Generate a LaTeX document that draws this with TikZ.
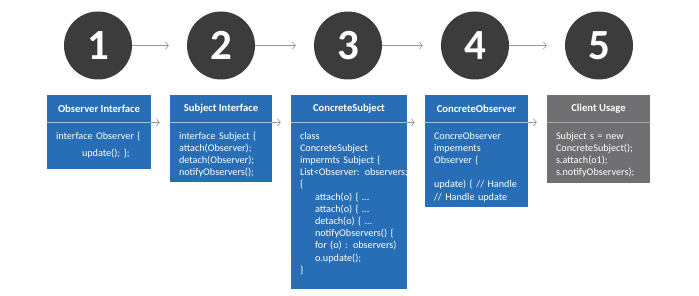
\documentclass[tikz,border=0pt]{standalone}
\usepackage{fontspec}
\setmainfont{Carlito}
\usetikzlibrary{arrows.meta}
\definecolor{disc}{RGB}{60,60,60}
\definecolor{card}{RGB}{40,110,182}
\definecolor{client}{RGB}{112,112,114}
\definecolor{rule}{RGB}{160,192,226}
\definecolor{wire}{RGB}{150,150,150}

\begin{document}
\begin{tikzpicture}[x=1pt, y=-1pt,
    num/.style={circle, fill=disc, minimum size=68pt, inner sep=0pt, text=white,
                font=\fontsize{43}{43}\selectfont\bfseries},
    flow/.style={draw=wire, line width=0.6pt, -{Straight Barb[length=3pt,width=7pt]}},
    head/.style={fill=card, text=white, minimum height=27pt, inner sep=0pt, anchor=north,
                 font=\fontsize{10.6}{12}\selectfont\bfseries},
    body/.style={fill=card, text=white, anchor=north west, align=left, inner xsep=9pt,
                 inner ysep=4pt, text height=12.5pt, font=\fontsize{10.2}{12.2}\selectfont},
    split/.style={draw=rule, line width=0.6pt}]
  \fill[white] (0,0) rectangle (699,296);
  \useasboundingbox (0,0) rectangle (699,296);

  % numbered steps
  \foreach \i/\x in {1/98,2/221,3/348,4/475,5/599}
    \node[num] (c\i) at (\x,45.5) {\i};
  \foreach \a/\b in {c1/c2,c2/c3,c3/c4,c4/c5}
    \draw[flow, shorten >=18pt] (\a) -- (\b);

  % cards
  \node[head, minimum width=104pt] (h1) at (99,95) {Observer Interface};
  \node[body, text width=86pt, text depth=25.5pt] (b1) at (h1.south west) {%
    interface Observer \{\\[5.6pt]
    \hspace*{26pt}update(); \};};

  \node[head, minimum width=102pt] (h2) at (221,95) {Subject Interface};
  \node[body, text width=84pt, text depth=38.5pt] (b2) at (h2.south west) {%
    interface Subject \{\\
    attach(Observer);\\
    detach(Observer);\\
    notifyObservers();};

  \node[head, minimum width=116pt] (h3) at (349,95) {ConcreteSubject};
  \node[body, text width=98pt, text depth=145.5pt] (b3) at (h3.south west) {%
    class\\
    ConcreteSubject\\
    impermts Subject \{\\
    \mbox{List<Observer: observers;}\\
    \{\\
    \hspace*{15pt}attach(o) \{ \dots\\
    \hspace*{15pt}attach(o) \{ \dots\\
    \hspace*{15pt}detach(o) \{ \dots\\
    \hspace*{15pt}notifyObservers() \{\\
    \hspace*{15pt}for (o) : observers)\\
    \hspace*{15pt}o.update();\\
    \}};

  \node[head, minimum width=103pt] (h4) at (476.5,95) {ConcreteObserver};
  \node[body, text width=85pt, text depth=63.5pt] (b4) at (h4.south west) {%
    ConcreObserver\\
    impements\\
    Observer \{\\[12.2pt]
    update) \{ // Handle\\
    // Handle update};

  \node[head, fill=client, minimum width=103pt] (h5) at (598.5,95) {Client Usage};
  \node[body, fill=client, text width=85pt, text depth=39.5pt] (b5) at (h5.south west) {%
    Subject s = new\\
    ConcreteSubject();\\
    s.attach(o1);\\
    s.notifyObservers);};

  \foreach \n in {1,2,3,4}
    \draw[split] (h\n.south west) -- (h\n.south east);
  \draw[split, draw=client!60!white] (h5.south west) -- (h5.south east);
  \foreach \a/\b in {h1/h2,h2/h3,h3/h4,h4/h5}
    \draw[flow, shorten >=10pt] (\a.south east) -- (\b.south west);
\end{tikzpicture}
\end{document}
